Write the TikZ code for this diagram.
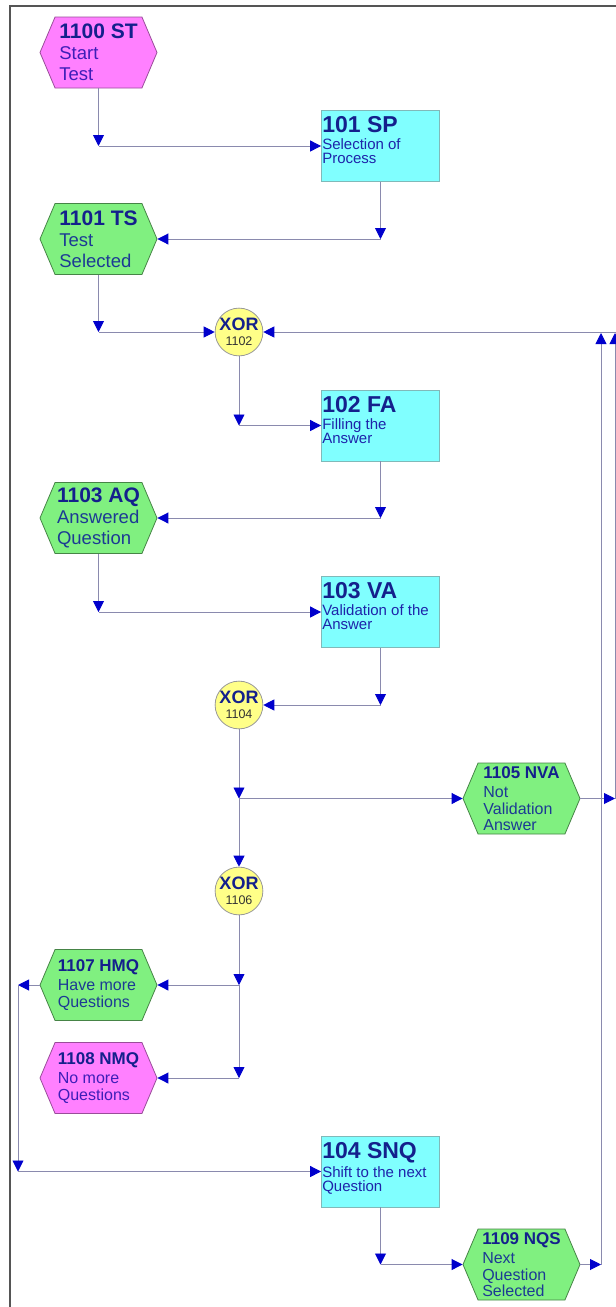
\documentclass[tikz,border=0pt]{standalone}
\usepackage{fontspec}
\setmainfont{Liberation Sans}
\usetikzlibrary{arrows.meta,positioning,calc,shapes.symbols}
\definecolor{Frame}{HTML}{555555}
\definecolor{Wire}{HTML}{8A8AAE}
\definecolor{Tip}{HTML}{0000CC}
\definecolor{Navy}{HTML}{14208C}
\definecolor{EvPink}{HTML}{FF80FF}
\definecolor{EvGreen}{HTML}{80F080}
\definecolor{FnCyan}{HTML}{80FFFF}
\definecolor{XorYellow}{HTML}{FFFF88}
\definecolor{PinkInk}{HTML}{3E1EB8}
\definecolor{GreenInk}{HTML}{1C3A94}
\definecolor{CyanInk}{HTML}{1E24AA}
\tikzset{
  event/.style={signal,signal to=west and east,signal pointer angle=134,minimum width=117pt,minimum height=71pt,inner sep=0pt,align=left,line width=0.8pt,font=\fontsize{18.5}{21}\selectfont},
  eventpink/.style={event,draw=EvPink!60!black,fill=EvPink,text=PinkInk},
  eventgreen/.style={event,draw=EvGreen!55!black,fill=EvGreen,text=GreenInk},
  smallev/.style={font=\fontsize{16}{16.5}\selectfont},
  func/.style={draw=FnCyan!45!gray,fill=FnCyan,minimum width=118pt,minimum height=71pt,line width=0.8pt},
  funclbl/.style={anchor=north west,inner xsep=1pt,inner ysep=6.5pt,align=left,text=CyanInk,font=\fontsize{15}{14}\selectfont},
  xorgate/.style={circle,draw=Frame!60,fill=XorYellow,minimum size=46pt,inner sep=0pt,align=center,text=Navy,line width=0.8pt,font=\fontsize{12.5}{15}\selectfont},
  arrow/.style={-{Triangle[length=11pt,width=11pt,color=Tip]},draw=Wire,line width=0.9pt}
}
\newcommand{\bigtitle}[1]{\textcolor{Navy}{\fontsize{21}{21}\selectfont\bfseries #1}}
\newcommand{\smalltitle}[1]{\textcolor{Navy}{\fontsize{17}{17}\selectfont\bfseries #1}}
\newcommand{\fntitle}[1]{\textcolor{Navy}{\fontsize{23}{23}\selectfont\bfseries #1}}
\newcommand{\xortext}[1]{{\fontsize{18}{15}\selectfont\bfseries XOR}\\{\color{black!80}#1}}

\begin{document}
\begin{tikzpicture}[x=1pt,y=-1pt]
  \useasboundingbox (0,0) rectangle (616,1307);
  \draw[Frame,line width=1.2pt] (10,1307) -- (10,6) -- (620,6);

  % events and functions
  \node[eventpink] (st) at (98.5,52.5) {\bigtitle{1100 ST}\\Start\\Test};
  \node[func,label={[funclbl]north west:{\fntitle{101 SP}\\[3pt]Selection of\\Process}}] (sp) at (380.5,146) {};
  \node[eventgreen] (ts) at (98.5,239) {\bigtitle{1101 TS}\\Test\\Selected};
  \node[xorgate] (x1) at (239,332) {\xortext{1102}};
  \node[func,label={[funclbl]north west:{\fntitle{102 FA}\\[3pt]Filling the\\Answer}}] (fa) at (380.5,425.5) {};
  \node[eventgreen] (aq) at (98.5,518) {\bigtitle{1103 AQ}\\Answered\\Question};
  \node[func,label={[funclbl]north west:{\fntitle{103 VA}\\[3pt]Validation of the\\Answer}}] (va) at (380.5,612) {};
  \node[xorgate] (x2) at (239,705) {\xortext{1104}};
  \node[eventgreen,smallev] (nva) at (521.5,798.5) {\smalltitle{1105 NVA}\\[3pt]Not\\Validation\\Answer};
  \node[xorgate] (x3) at (239,891) {\xortext{1106}};
  \node[eventgreen,smallev] (hmq) at (98.5,985) {\smalltitle{1107 HMQ}\\[3pt]Have more\\Questions};
  \node[eventpink,smallev] (nmq) at (98.5,1078) {\smalltitle{1108 NMQ}\\[3pt]No more\\Questions};
  \node[func,label={[funclbl]north west:{\fntitle{104 SNQ}\\[3pt]Shift to the next\\Question}}] (snq) at (380.5,1171.5) {};
  \node[eventgreen,smallev] (nqs) at (521.5,1264.5) {\smalltitle{1109 NQS}\\[3pt]Next\\Question\\Selected};

  % rails and bends
  \coordinate (railA) at (601,333);
  \coordinate (railB) at (615,333);
  \coordinate (railTop) at (620,332);
  \coordinate (railL) at (18,1000);
  \coordinate (c1) at (st.south |- sp.west);
  \coordinate (c2) at (sp.south |- ts.east);
  \coordinate (c3) at (ts.south |- x1.west);
  \coordinate (c4) at (x1.south |- fa.west);
  \coordinate (c5) at (fa.south |- aq.east);
  \coordinate (c6) at (aq.south |- va.west);
  \coordinate (c7) at (va.south |- x2.east);
  \coordinate (c8) at (x2.south |- nva.west);
  \coordinate (c9) at (nva.east -| railB);
  \coordinate (c10) at (x3.south |- hmq.east);
  \coordinate (c11) at (x3.south |- nmq.east);
  \coordinate (c12) at (hmq.west -| railL);
  \coordinate (c13) at (snq.west -| railL);
  \coordinate (c14) at (snq.south |- nqs.west);
  \coordinate (c15) at (nqs.east -| railA);

  % connectors
  \foreach \a/\b in {st.south/c1, c1/sp.west, sp.south/c2, c2/ts.east,
      ts.south/c3, c3/x1.west, x1.south/c4, c4/fa.west, fa.south/c5, c5/aq.east,
      aq.south/c6, c6/va.west, va.south/c7, c7/x2.east, x2.south/c8, c8/nva.west,
      c8/x3.north, nva.east/c9, c9/railB, x3.south/c10, c10/hmq.east, c10/c11,
      c11/nmq.east, hmq.west/c12, c12/c13, c13/snq.west, snq.south/c14,
      c14/nqs.west, nqs.east/c15, c15/railA, railTop/x1.east}
    \draw[arrow] (\a) -- (\b);
\end{tikzpicture}
\end{document}
